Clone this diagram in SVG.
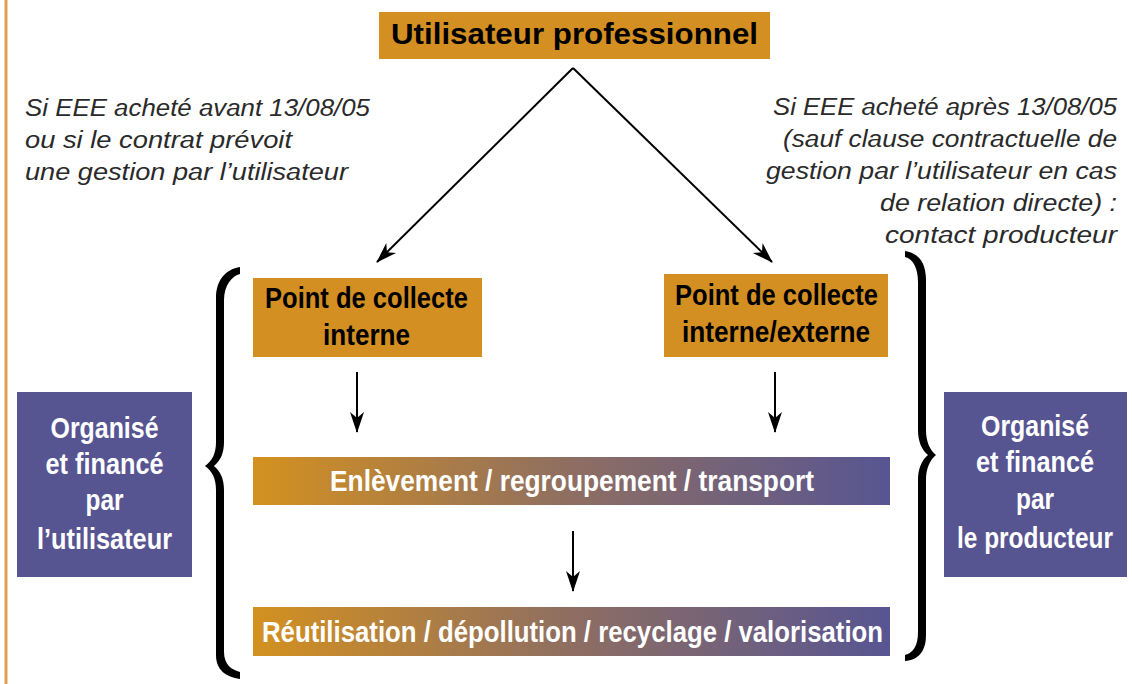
<svg xmlns="http://www.w3.org/2000/svg" width="1132" height="684" viewBox="0 0 1132 684">
  <defs>
    <linearGradient id="bar" x1="0" y1="0" x2="1" y2="0">
      <stop offset="0" stop-color="#D4911F"/>
      <stop offset="0.5" stop-color="#8E6E62"/>
      <stop offset="1" stop-color="#575592"/>
    </linearGradient>
    <marker id="ah" viewBox="-21 -8 23 16" markerWidth="23" markerHeight="16" refX="0" refY="0" orient="auto" markerUnits="userSpaceOnUse">
      <path d="M1,0 L-20,-7 L-14,0 L-20,7 Z" fill="#000"/>
    </marker>
    <style>
      .orange { fill: #D48F22; }
      .purple { fill: #575492; }
      .cond { font-family: "Liberation Sans", Arial, sans-serif; font-size: 30px; font-weight: bold; text-anchor: middle; }
      .dark { fill: #000; }
      .white { fill: #fff; }
      .note { font-family: "Liberation Sans", Arial, sans-serif; font-style: italic; font-size: 23px; fill: #2a2a2a; }
      .conn { stroke: #000; stroke-width: 2; fill: none; }
    </style>
  </defs>
  <rect width="1132" height="684" fill="#fff"/>
  <line x1="6" y1="0" x2="6" y2="684" stroke="#E3A04A" stroke-width="3"/>

  <g id="n-top">
    <rect class="orange" x="379" y="12" width="391" height="47"/>
    <text x="574.5" y="44" font-family="Liberation Sans, Arial, sans-serif" font-weight="bold" font-size="29" text-anchor="middle" textLength="367" lengthAdjust="spacingAndGlyphs" fill="#000">Utilisateur professionnel</text>
  </g>

  <g id="note-left">
    <text class="note" x="25" y="116" textLength="345" lengthAdjust="spacingAndGlyphs">Si EEE acheté avant 13/08/05</text>
    <text class="note" x="25" y="148" textLength="267" lengthAdjust="spacingAndGlyphs">ou si le contrat prévoit</text>
    <text class="note" x="25" y="180" textLength="323" lengthAdjust="spacingAndGlyphs">une gestion par l’utilisateur</text>
  </g>

  <g id="note-right">
    <text class="note" x="773" y="115" textLength="344" lengthAdjust="spacingAndGlyphs">Si EEE acheté après 13/08/05</text>
    <text class="note" x="783" y="147" textLength="334" lengthAdjust="spacingAndGlyphs">(sauf clause contractuelle de</text>
    <text class="note" x="766" y="179" textLength="351" lengthAdjust="spacingAndGlyphs">gestion par l’utilisateur en cas</text>
    <text class="note" x="880" y="211" textLength="237" lengthAdjust="spacingAndGlyphs">de relation directe) :</text>
    <text class="note" x="885" y="243" textLength="232" lengthAdjust="spacingAndGlyphs">contact producteur</text>
  </g>

  <g id="n-collecte-interne">
    <rect class="orange" x="253" y="278" width="229" height="79"/>
    <text class="cond dark" x="366.5" y="308" textLength="203" lengthAdjust="spacingAndGlyphs">Point de collecte</text>
    <text class="cond dark" x="366.5" y="345" textLength="87" lengthAdjust="spacingAndGlyphs">interne</text>
  </g>

  <g id="n-collecte-externe">
    <rect class="orange" x="664" y="274" width="224" height="83"/>
    <text class="cond dark" x="776.5" y="305" textLength="203" lengthAdjust="spacingAndGlyphs">Point de collecte</text>
    <text class="cond dark" x="776" y="342" textLength="188" lengthAdjust="spacingAndGlyphs">interne/externe</text>
  </g>

  <g id="n-enlevement">
    <rect x="253" y="457" width="637" height="48" fill="url(#bar)"/>
    <text class="cond white" x="572" y="491" font-size="29" textLength="484" lengthAdjust="spacingAndGlyphs">Enlèvement / regroupement / transport</text>
  </g>

  <g id="n-reutilisation">
    <rect x="253" y="607" width="637" height="49" fill="url(#bar)"/>
    <text class="cond white" x="572.5" y="642" font-size="29" textLength="621" lengthAdjust="spacingAndGlyphs">Réutilisation / dépollution / recyclage / valorisation</text>
  </g>

  <g id="n-org-utilisateur">
    <rect class="purple" x="17" y="392" width="175" height="185"/>
    <text class="cond white" x="104.5" y="438" font-size="29" textLength="108" lengthAdjust="spacingAndGlyphs">Organisé</text>
    <text class="cond white" x="104.5" y="474" font-size="29" textLength="118" lengthAdjust="spacingAndGlyphs">et financé</text>
    <text class="cond white" x="104.5" y="510" font-size="29" textLength="38" lengthAdjust="spacingAndGlyphs">par</text>
    <text class="cond white" x="104.5" y="549" font-size="29" textLength="135" lengthAdjust="spacingAndGlyphs">l’utilisateur</text>
  </g>

  <g id="n-org-producteur">
    <rect class="purple" x="944" y="392" width="183" height="185"/>
    <text class="cond white" x="1035" y="436" font-size="29" textLength="108" lengthAdjust="spacingAndGlyphs">Organisé</text>
    <text class="cond white" x="1035" y="472" font-size="29" textLength="118" lengthAdjust="spacingAndGlyphs">et financé</text>
    <text class="cond white" x="1035" y="509" font-size="29" textLength="38" lengthAdjust="spacingAndGlyphs">par</text>
    <text class="cond white" x="1035" y="548" font-size="27" textLength="156" lengthAdjust="spacingAndGlyphs">le producteur</text>
  </g>

  <g id="brace-left">
    <path fill="#000" d="M240,267 C226,269 216,280 216,298 L216,442 C216,454 212,461 205,466 C212,471 216,478 216,490 L216,655 C216,670 226,677 240,679 L240,672 C232,670 224,665 224,652 L224,490 C224,478 220,471 214,466 C220,461 224,454 224,442 L224,300 C224,285 232,276 240,274 Z"/>
  </g>
  <g id="brace-right">
    <path fill="#000" d="M905,251 C918,253 926,262 926,280 L926,430 C926,442 930,450 936,455 C930,460 926,468 926,480 L926,635 C926,652 918,660 905,661 L905,655 C913,653 918,646 918,632 L918,480 C918,468 922,460 928,455 C922,450 918,442 918,430 L918,282 C918,268 913,259 905,257 Z"/>
  </g>

  <g id="connectors">
    <line class="conn" x1="573" y1="68" x2="377" y2="262" marker-end="url(#ah)"/>
    <line class="conn" x1="573" y1="68" x2="772" y2="262" marker-end="url(#ah)"/>
    <line class="conn" x1="357" y1="372" x2="357" y2="432" marker-end="url(#ah)"/>
    <line class="conn" x1="775" y1="372" x2="775" y2="432" marker-end="url(#ah)"/>
    <line class="conn" x1="573" y1="531" x2="573" y2="591" marker-end="url(#ah)"/>
  </g>
</svg>
